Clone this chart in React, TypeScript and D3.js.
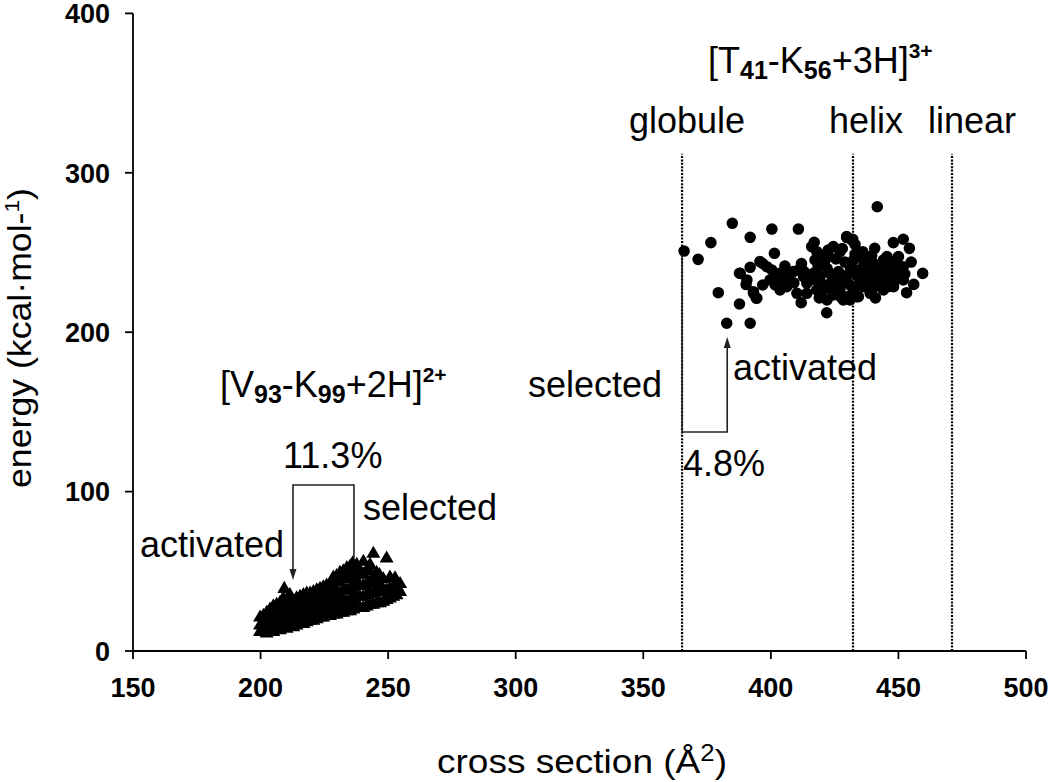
import React from 'react';
import * as d3 from 'd3';

// ---- data ----
const xTicks = [150, 200, 250, 300, 350, 400, 450, 500];
const yTicks = [0, 100, 200, 300, 400];

// [V93-K99+2H]2+ conformers (triangles): cross section, energy
const triX = [
  199.8, 199.8, 199.8, 202.4, 202.4, 202.4, 202.4, 205.0, 205.0, 205.0, 205.0,
  207.6, 207.6, 207.6, 207.6, 209.3, 211.5, 210.2, 210.2, 210.2, 210.2,
  212.8, 212.8, 212.8, 212.8, 215.5, 215.5, 215.5, 215.5, 218.1, 218.1, 218.1, 218.1,
  220.7, 220.7, 220.7, 220.7, 223.3, 223.3, 223.3, 223.3, 225.9, 225.9, 225.9, 225.9,
  228.5, 228.5, 228.5, 228.5, 228.5, 231.1, 231.1, 231.1, 231.1, 231.1,
  233.8, 233.8, 233.8, 233.8, 233.8, 236.1, 236.4, 236.4, 236.4, 236.4,
  239.0, 239.0, 239.0, 239.0, 240.3, 241.6, 241.6, 241.6, 241.6,
  244.2, 244.2, 244.2, 244.2, 246.6, 246.8, 246.8, 246.8, 249.4, 249.4, 249.4,
  252.0, 252.0, 252.7, 253.3, 254.7, 254.7,
  201.1, 201.1, 201.1, 203.7, 203.7, 203.7, 203.7, 206.3, 206.3, 206.3, 206.3,
  208.9, 208.9, 208.9, 208.9, 211.5, 211.5, 211.5, 211.5, 214.1, 214.1, 214.1, 214.1,
  216.8, 216.8, 216.8, 216.8, 219.4, 219.4, 219.4, 219.4, 222.0, 222.0, 222.0, 222.0,
  224.6, 224.6, 224.6, 224.6, 227.2, 227.2, 227.2, 227.2,
  229.8, 229.8, 229.8, 229.8, 229.8, 232.4, 232.4, 232.4, 232.4, 232.4,
  235.1, 235.1, 235.1, 235.1, 235.1, 237.7, 237.7, 237.7, 237.7, 237.7,
  240.3, 240.3, 240.3, 240.3, 242.9, 242.9, 242.9, 242.9, 242.9,
  245.5, 245.5, 245.5, 245.5, 248.1, 248.1, 248.1, 250.7, 250.7, 250.7, 253.3, 253.3,
];
const triY = [
  12, 16, 21, 11, 15, 19, 24, 12, 17, 22, 28,
  13, 18, 24, 30, 39, 35, 14, 20, 26, 32,
  15, 21, 27, 31, 17, 23, 29, 34, 18, 24, 30, 36,
  19, 25, 31, 37, 21, 27, 33, 39, 22, 28, 34, 41,
  23, 29, 35, 41, 46, 24, 30, 36, 43, 49,
  25, 31, 38, 45, 52, 55, 26, 33, 40, 47,
  27, 34, 41, 48, 56, 28, 35, 42, 50,
  29, 36, 43, 61, 47.7, 30, 37, 42, 32, 38, 58,
  34, 40, 45.6, 40.3, 37, 42,
  13, 18, 22, 13, 17, 21, 26, 14, 19, 25, 29,
  15, 21, 27, 33, 16, 22, 28, 33, 16, 22, 28, 33,
  17, 23, 29, 35, 19, 25, 31, 36, 20, 26, 32, 38,
  21, 27, 33, 40, 22, 28, 35, 42,
  23, 30, 37, 44, 47, 24, 31, 38, 45, 50,
  25, 32, 39, 46, 53, 27, 34, 41, 48, 54,
  27, 34, 41, 48, 29, 36, 43, 50, 54,
  30, 37, 44, 49, 31, 38, 45, 33, 39, 46, 35, 41,
];

// [T41-K56+3H]3+ conformers (circles): cross section, energy
const circX = [
  366.0, 371.5, 376.5, 384.9, 391.9, 400.4, 410.8, 379.4, 382.7, 391.9, 387.7, 387.7,
  391.9, 390.3, 393.2, 394.3, 396.8, 396.8, 401.4, 411.9, 421.9, 417.0, 429.8,
  395.7, 398.4, 400.4, 402.3, 403.6, 405.0, 406.9, 408.8, 410.8, 412.8, 414.1, 415.3,
  416.7, 417.3, 416.0, 418.0, 420.0, 420.6, 422.0, 423.2, 424.5, 425.8, 427.1, 428.4,
  429.7, 431.1, 432.4, 433.6, 435.0, 436.3, 437.6, 438.9, 440.2, 441.6, 442.9, 444.1,
  445.5, 446.8, 448.1, 449.4, 450.7, 451.9, 429.7, 431.7, 430.4, 428.4, 424.5, 420.6,
  418.0, 414.1, 410.2, 406.2, 403.6, 393.2, 394.5, 388.0, 390.6, 399.7, 401.7, 422.0,
  427.1, 432.4, 434.3, 440.2, 442.9, 445.5, 437.6, 435.0, 427.1, 424.5, 422.6, 419.3,
  423.2, 438.9, 448.1, 450.0, 445.5,
  441.7, 429.7, 432.1, 448.0, 451.9, 454.3, 440.7, 450.0, 459.5, 453.2, 451.9, 446.0,
  439.5, 444.1, 431.0, 433.6, 442.8, 445.4, 437.6, 435.0, 428.4, 448.0,
  418.5, 421.0, 425.5, 426.5, 429.0, 433.0, 436.5, 439.5, 441.0, 443.5, 446.5, 449.0,
  452.5, 424.0, 426.0, 431.0, 434.0, 438.0, 420.0, 417.0, 413.0, 409.0, 407.0, 405.5,
  412.0, 419.0, 428.0, 436.0, 433.0, 427.5, 441.0, 455.0, 456.0, 422.5, 430.5,
];
const circY = [
  250.9, 245.7, 256.2, 268.3, 259.5, 264.7, 264.7, 224.8, 205.6, 205.6, 217.7, 237.0,
  240.7, 229.9, 224.4, 221.3, 243.1, 229.6, 249.5, 218.5, 212.2, 256.4, 259.5,
  244.3, 241.1, 239.0, 234.9, 236.9, 232.8, 234.9, 238.0, 239.0, 234.9, 230.7, 232.8,
  236.9, 245.3, 253.7, 250.5, 248.4, 243.2, 240.1, 236.9, 232.8, 228.6, 225.4, 230.7,
  234.9, 241.1, 245.3, 239.0, 232.8, 228.6, 234.9, 241.1, 243.2, 236.9, 232.8, 226.5,
  230.7, 234.9, 239.0, 243.2, 239.0, 232.8, 260.0, 257.9, 222.3, 220.2, 223.4, 226.5,
  226.5, 224.4, 224.4, 228.6, 226.5, 225.4, 221.3, 236.9, 232.8, 232.8, 229.6, 220.2,
  232.8, 226.5, 222.3, 232.8, 241.1, 241.1, 245.3, 247.4, 250.5, 253.7, 247.4, 234.9,
  230.7, 224.4, 228.6, 233.8, 247.4,
  278.7, 259.5, 258.3, 256.2, 258.3, 252.6, 252.6, 247.4, 236.9, 224.8, 241.1, 228.6,
  224.8, 245.3, 220.2, 222.3, 236.9, 232.7, 239.0, 231.7, 234.8, 242.2,
  241.0, 244.5, 246.0, 238.0, 244.0, 249.0, 242.5, 248.0, 229.0, 238.5, 245.0, 236.0,
  236.5, 228.0, 235.0, 229.5, 235.5, 231.0, 230.0, 233.0, 238.0, 231.0, 236.5, 241.5,
  243.0, 221.5, 252.5, 250.5, 255.0, 222.0, 221.5, 244.0, 230.0, 251.5, 236.5,
];

// structural reference cross sections
const refLabels = ['globule', 'helix', 'linear'];
const refX = [365.2, 432.2, 471.0];
const refTop = 312;

// bracket annotations (data coordinates)
const leftBracketX = [212.7, 236.6];
const leftBracketY = [44.5, 104.1, 58.4]; // arrow tip, top, right end
const rightBracketX = [365.2, 382.9];
const rightBracketY = [248.4, 137.4, 197.0]; // start, bottom, arrow tip

const W = 1050;
const H = 782;
const FONT = '"Liberation Sans", Arial, sans-serif';

export default function App() {
  const x = d3.scaleLinear().domain([150, 500]).range([133, 1026]);
  const y = d3.scaleLinear().domain([0, 400]).range([651, 13.4]);
  const tri = d3.symbol().type(d3.symbolTriangle).size(85)() as string;
  const circ = d3.symbol().type(d3.symbolCircle).size(105)() as string;

  const lb = d3.path();
  lb.moveTo(x(leftBracketX[0]), y(leftBracketY[0]) - 9);
  lb.lineTo(x(leftBracketX[0]), y(leftBracketY[1]));
  lb.lineTo(x(leftBracketX[1]), y(leftBracketY[1]));
  lb.lineTo(x(leftBracketX[1]), y(leftBracketY[2]));

  const rb = d3.path();
  rb.moveTo(x(rightBracketX[0]), y(rightBracketY[0]));
  rb.lineTo(x(rightBracketX[0]), y(rightBracketY[1]));
  rb.lineTo(x(rightBracketX[1]), y(rightBracketY[1]));
  rb.lineTo(x(rightBracketX[1]), y(rightBracketY[2]) + 9);

  const arrowHead = (px: number, py: number, dir: number) =>
    `M${px},${py} L${px - 3.5},${py - dir * 11} L${px + 3.5},${py - dir * 11} Z`;

  return (
    <svg width={W} height={H} style={{ position: 'absolute', left: 0, top: 0, background: '#fff' }} fontFamily={FONT}>
      <rect x={0} y={0} width={W} height={H} fill="#fff" />

      {/* reference lines */}
      {refX.map((v, i) => (
        <line key={refLabels[i]} x1={x(v)} x2={x(v)} y1={y(0)} y2={y(refTop)}
          stroke="#000" strokeWidth={2.2} strokeDasharray="2 1.4" />
      ))}

      {/* axes */}
      <line x1={x(150)} x2={x(150)} y1={y(0)} y2={y(400)} stroke="#000" strokeWidth={1.8} />
      <line x1={x(150)} x2={x(500)} y1={y(0)} y2={y(0)} stroke="#000" strokeWidth={1.8} />
      {yTicks.map((t) => (
        <g key={'y' + t}>
          <line x1={x(150) - 8} x2={x(150)} y1={y(t)} y2={y(t)} stroke="#000" strokeWidth={1.8} />
          <text x={110} y={y(t)} dy="0.36em" textAnchor="end" fontSize={27} fontWeight="bold">{t}</text>
        </g>
      ))}
      {xTicks.map((t) => (
        <g key={'x' + t}>
          <line x1={x(t)} x2={x(t)} y1={y(0)} y2={y(0) + 8} stroke="#000" strokeWidth={1.8} />
          <text x={x(t)} y={697} textAnchor="middle" fontSize={27} fontWeight="bold">{t}</text>
        </g>
      ))}

      {/* axis titles */}
      <text transform={`translate(31,338) rotate(-90)`} textAnchor="middle" fontSize={33}
        textLength={300} lengthAdjust="spacingAndGlyphs">
        energy (kcal·mol-<tspan dy={-12} fontSize={21}>1</tspan><tspan dy={12}>)</tspan>
      </text>
      <text x={582} y={773} textAnchor="middle" fontSize={33}
        textLength={290} lengthAdjust="spacingAndGlyphs">
        cross section (Å<tspan dy={-12} fontSize={23}>2</tspan><tspan dy={12}>)</tspan>
      </text>

      {/* points */}
      {triX.map((v, i) => (
        <path key={'t' + i} d={tri} transform={`translate(${x(v)},${y(triY[i])})`} fill="#000" />
      ))}
      {circX.map((v, i) => (
        <path key={'c' + i} d={circ} transform={`translate(${x(v)},${y(circY[i])})`} fill="#000" />
      ))}

      {/* brackets */}
      <path d={lb.toString()} fill="none" stroke="#222" strokeWidth={1.6} />
      <path d={arrowHead(x(leftBracketX[0]), y(leftBracketY[0]), 1)} fill="#222" />
      <path d={rb.toString()} fill="none" stroke="#222" strokeWidth={1.6} />
      <path d={arrowHead(x(rightBracketX[1]), y(rightBracketY[2]), -1)} fill="#222" />

      {/* labels */}
      <text x={708} y={73} fontSize={36}>
        [T<tspan dy={6} fontSize={25} fontWeight="bold">41</tspan>
        <tspan dy={-6}>-K</tspan>
        <tspan dy={6} fontSize={25} fontWeight="bold">56</tspan>
        <tspan dy={-6}>+3H]</tspan>
        <tspan dy={-15} fontSize={21} fontWeight="bold">3+</tspan>
      </text>
      <text x={629} y={133} fontSize={36}>{refLabels[0]}</text>
      <text x={829} y={133} fontSize={36}>{refLabels[1]}</text>
      <text x={928} y={133} fontSize={36}>{refLabels[2]}</text>

      <text x={220} y={397} fontSize={36}>
        [V<tspan dy={6} fontSize={25} fontWeight="bold">93</tspan>
        <tspan dy={-6}>-K</tspan>
        <tspan dy={6} fontSize={25} fontWeight="bold">99</tspan>
        <tspan dy={-6}>+2H]</tspan>
        <tspan dy={-15} fontSize={21} fontWeight="bold">2+</tspan>
      </text>
      <text x={283} y={468} fontSize={36}>11.3%</text>
      <text x={363} y={520} fontSize={36}>selected</text>
      <text x={140} y={557} fontSize={36}>activated</text>

      <text x={528} y={397} fontSize={36}>selected</text>
      <text x={733} y={380} fontSize={36}>activated</text>
      <text x={683} y={476} fontSize={36}>4.8%</text>
    </svg>
  );
}
